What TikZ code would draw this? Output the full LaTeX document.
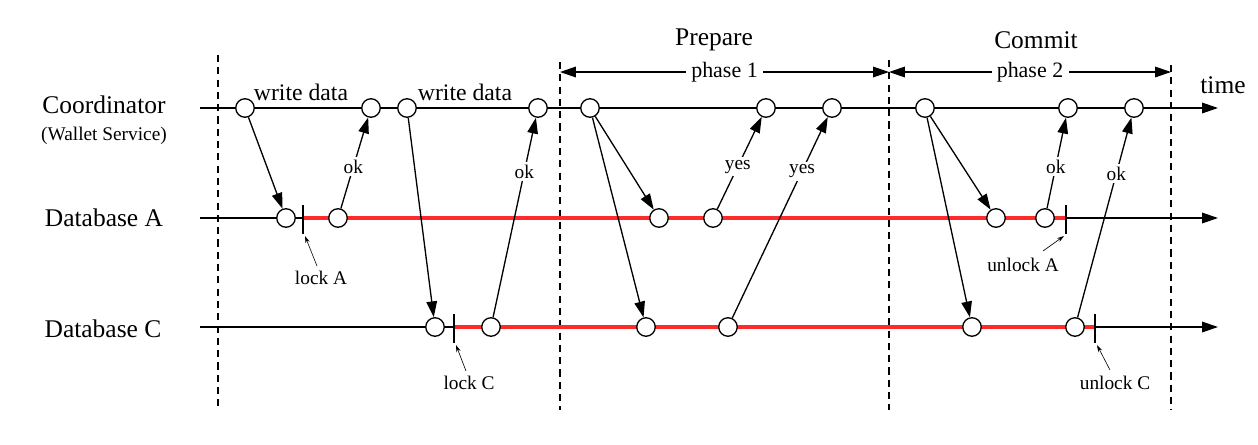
\documentclass[tikz,border=0pt]{standalone}
\usepackage{fontspec}
\setmainfont{Liberation Serif}
\usetikzlibrary{arrows.meta}

\definecolor{lockred}{RGB}{255,42,42}

\begin{document}
\begin{tikzpicture}[x=0.02cm,y=-0.02cm]
\tikzstyle{every node}+=[inner sep=0pt]
\tikzstyle{ev}=[circle,draw,fill=white,line width=0.75pt,minimum size=0.37cm]
\tikzstyle{msg}=[line width=0.75pt,-{Triangle[length=9pt,width=6pt]}]
\tikzstyle{reply}=[line width=0.75pt,-{Triangle[length=9pt,width=6pt]}]
\tikzstyle{lbl}=[fill=white,inner sep=1.5pt,font=\fontsize{11pt}{13pt}\selectfont]
\tikzstyle{big}=[font=\fontsize{14.5pt}{17pt}\selectfont]
\tikzstyle{note}=[font=\fontsize{11pt}{13pt}\selectfont]
\tikzstyle{tick}=[line width=1.2pt]
\tikzstyle{pointer}=[line width=0.35pt,-{Stealth[length=4pt,width=2.5pt]}]
\useasboundingbox (0,0) rectangle (1258,444);
% phase boundaries
\draw [dashed,dash pattern=on 4pt off 3pt,line width=0.7pt] (218,55) -- (218,410);
\draw [dashed,dash pattern=on 4pt off 3pt,line width=0.7pt] (560,62) -- (560,410);
\draw [dashed,dash pattern=on 4pt off 3pt,line width=0.7pt] (889,60) -- (889,410);
\draw [dashed,dash pattern=on 4pt off 3pt,line width=0.7pt] (1171,65) -- (1171,410);
\draw (714,40) node [big] {Prepare};
\draw (1036,40) node [big] {Commit};
\coordinate (ph0) at (560,72);
\coordinate (ph1) at (889,72);
\coordinate (ph2) at (1171,72);
\draw [line width=0.75pt,{Triangle[length=9pt,width=6pt]}-{Triangle[length=9pt,width=6pt]}] (ph0) -- node [fill=white,inner sep=3pt,font=\fontsize{12.5pt}{15pt}\selectfont] {phase 1} (ph1);
\draw [line width=0.75pt,{Triangle[length=9pt,width=6pt]}-{Triangle[length=9pt,width=6pt]}] (ph1) -- node [fill=white,inner sep=3pt,font=\fontsize{12.5pt}{15pt}\selectfont] {phase 2} (ph2);
% time lines
\node [big] (coord) at (104,105) {Coordinator};
\node [note] (wallet) at (104,136) {(Wallet Service)};
\node [big] (dba) at (104,218) {Database A};
\node [big] (dbc) at (103,329) {Database C};
\node [big] (time) at (1223,85) {time};
\coordinate (c0) at (200,108);
\coordinate (c1) at (1218,108);
\coordinate (a0) at (200,218);
\coordinate (a1) at (1218,218);
\coordinate (d0) at (200,327);
\coordinate (d1) at (1218,327);
\draw [msg] (c0) -- (c1);
\draw [msg] (a0) -- (a1);
\draw [msg] (d0) -- (d1);
% locks held
\coordinate (lockA) at (303,218);
\coordinate (unlockA) at (1066,218);
\coordinate (lockC) at (454,327);
\coordinate (unlockC) at (1095,327);
\draw [lockred,line width=2.8pt] (lockA) -- (unlockA);
\draw [lockred,line width=2.8pt] (lockC) -- (unlockC);
\draw [tick] (303,205) -- (303,234);
\draw [tick] (1066,205) -- (1066,234);
\draw [tick] (454,314) -- (454,343);
\draw [tick] (1095,314) -- (1095,343);
% events
\node [ev] (co1) at (245,108) {};
\node [ev] (co2) at (371,108) {};
\node [ev] (co3) at (407,108) {};
\node [ev] (co4) at (538,108) {};
\node [ev] (co5) at (590,108) {};
\node [ev] (co6) at (766,108) {};
\node [ev] (co7) at (832,108) {};
\node [ev] (co8) at (925,108) {};
\node [ev] (co9) at (1068,108) {};
\node [ev] (co10) at (1134,108) {};
\node [ev] (da1) at (286,218) {};
\node [ev] (da2) at (338,218) {};
\node [ev] (da3) at (659,218) {};
\node [ev] (da4) at (713,218) {};
\node [ev] (da5) at (996,218) {};
\node [ev] (da6) at (1045,218) {};
\node [ev] (dc1) at (435,327) {};
\node [ev] (dc2) at (491,327) {};
\node [ev] (dc3) at (646,327) {};
\node [ev] (dc4) at (728,327) {};
\node [ev] (dc5) at (972,327) {};
\node [ev] (dc6) at (1075,327) {};
% messages
\draw (301,92) node [font=\fontsize{13.5pt}{16pt}\selectfont] {write data};
\draw (465,92) node [font=\fontsize{13.5pt}{16pt}\selectfont] {write data};
\draw [msg] (co1) -- (da1);
\draw [reply] (da2) -- node [lbl,pos=0.46] {ok} (co2);
\draw [msg] (co3) -- (dc1);
\draw [reply] (dc2) -- node [lbl,pos=0.73] {ok} (co4);
\draw [msg] (co5) -- (da3);
\draw [msg] (co5) -- (dc3);
\draw [reply] (da4) -- node [lbl,pos=0.46] {yes} (co6);
\draw [reply] (dc4) -- node [lbl,pos=0.73] {yes} (co7);
\draw [msg] (co8) -- (da5);
\draw [msg] (co8) -- (dc5);
\draw [reply] (da6) -- node [lbl,pos=0.46] {ok} (co9);
\draw [reply] (dc6) -- node [lbl,pos=0.72] {ok} (co10);
% lock notes
\node [note] (nlockA) at (321,278) {lock A};
\node [note] (nlockC) at (469,383) {lock C};
\node [note] (nunlockA) at (1023,265) {unlock A};
\node [note] (nunlockC) at (1115,383) {unlock C};
\draw [pointer] (317,266) -- (305,236);
\draw [pointer] (466,371) -- (456,345);
\draw [pointer] (1043,251) -- (1064,236);
\draw [pointer] (1110,370) -- (1097,345);
\end{tikzpicture}
\end{document}
